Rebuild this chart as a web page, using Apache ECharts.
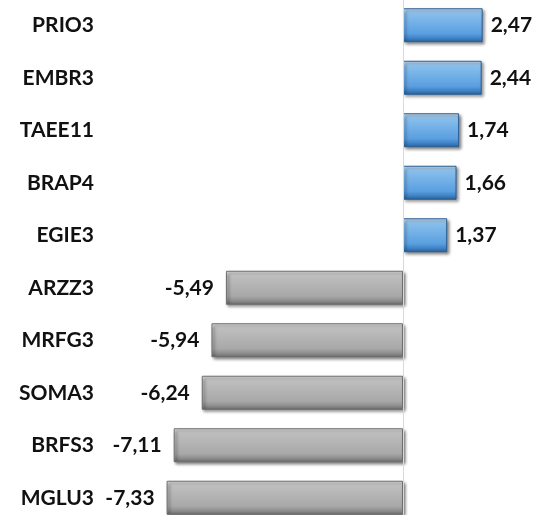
<!DOCTYPE html>
<html>
<head>
<meta charset="utf-8">
<script src="https://cdn.jsdelivr.net/npm/echarts@6/dist/echarts.min.js"></script>
<style>
html,body{margin:0;padding:0;background:#fff;}
#main{width:536px;height:515px;}
</style>
</head>
<body>
<div id="main"></div>
<script>
var tickers = ['PRIO3', 'EMBR3', 'TAEE11', 'BRAP4', 'EGIE3', 'ARZZ3', 'MRFG3', 'SOMA3', 'BRFS3', 'MGLU3'];
var changes = [2.47, 2.44, 1.74, 1.66, 1.37, -5.49, -5.94, -6.24, -7.11, -7.33];

var chart = echarts.init(document.getElementById('main'));

//正负柱子分别着色
function barStyle(v){
    if (v >= 0) {
        return {
            color: new echarts.graphic.LinearGradient(0, 0, 0, 1, [
                {offset: 0, color: '#c4e2fb'},
                {offset: 0.18, color: '#86bdec'},
                {offset: 0.75, color: '#5a9fe0'},
                {offset: 0.88, color: '#3f82c6'},
                {offset: 1, color: '#2a5f96'}
            ]),
            borderColor: '#2c5f93',
            borderWidth: 1,
            shadowColor: 'rgba(0,0,0,0.5)',
            shadowBlur: 3,
            shadowOffsetX: 2,
            shadowOffsetY: 2
        };
    }
    return {
        color: new echarts.graphic.LinearGradient(0, 0, 0, 1, [
            {offset: 0, color: '#e4e4e4'},
            {offset: 0.18, color: '#bdbdbd'},
            {offset: 0.75, color: '#a8a8a8'},
            {offset: 0.88, color: '#8e8e8e'},
            {offset: 1, color: '#6a6a6a'}
        ]),
        borderColor: '#6e6e6e',
        borderWidth: 1,
        shadowColor: 'rgba(0,0,0,0.5)',
        shadowBlur: 3,
        shadowOffsetX: 2,
        shadowOffsetY: 2
    };
}

var seriesData = [];
for (var i = 0; i < changes.length; i++) {
    var v = changes[i];
    seriesData.push({
        value: v,
        itemStyle: barStyle(v),
        label: {position: v >= 0 ? 'right' : 'left', distance: v >= 0 ? 8 : 12}
    });
}

var option = {
    animation: false,
    backgroundColor: '#ffffff',
    grid: {left: 145, right: 4, top: -1, bottom: -9, containLabel: false, outerBoundsMode: 'none'},
    xAxis: {
        type: 'value',
        min: -8,
        max: 4,
        show: false
    },
    yAxis: {
        type: 'category',
        data: tickers,
        inverse: true,
        axisLine: {show: false},
        axisTick: {show: false},
        splitLine: {show: false},
        axisLabel: {
            margin: 51,
            color: '#111',
            fontFamily: 'Lato',
            fontWeight: 'bold',
            fontSize: 21
        }
    },
    series: [{
        type: 'bar',
        data: seriesData,
        barWidth: 34,
        label: {
            show: true,
            color: '#111',
            fontFamily: 'Lato',
            fontWeight: 'bold',
            fontSize: 21,
            formatter: function (p) {
                return p.value.toFixed(2).replace('.', ',');
            }
        },
        markLine: {
            silent: true,
            symbol: 'none',
            label: {show: false},
            lineStyle: {color: '#d9d9d9', width: 1, type: 'solid'},
            data: [{xAxis: 0}]
        },
        z: 3
    }]
};
chart.setOption(option);
</script>
</body>
</html>
